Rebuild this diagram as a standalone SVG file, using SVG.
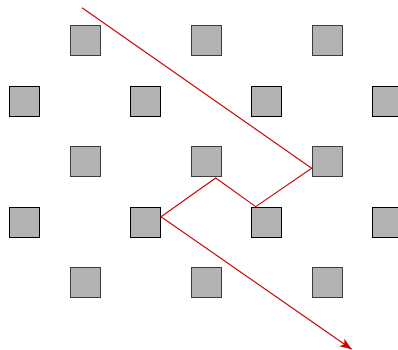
<svg xmlns="http://www.w3.org/2000/svg" width="398" height="350" viewBox="0 0 398 350">
<style>
.sq{fill:#b3b3b3;stroke-width:1}
.odd .sq{stroke:#3c3c3c}
.even .sq{stroke:#000}
.ray{fill:none;stroke:#c80000;stroke-width:1.1;stroke-linejoin:miter}
</style>
<defs>
<marker id="ah" markerUnits="userSpaceOnUse" markerWidth="16" markerHeight="12" viewBox="-13 -6 14 12" refX="0" refY="0" orient="auto">
<path d="M0,0 L-12,-4.5 L-9,0 L-12,4.5 Z" fill="#c80000"/>
</marker>
</defs>
<rect width="398" height="350" fill="#fff"/>
<g class="odd">
<g id="n11"><rect class="sq" x="70.5" y="25.5" width="30" height="30"/></g>
<g id="n12"><rect class="sq" x="191.5" y="25.5" width="30" height="30"/></g>
<g id="n13"><rect class="sq" x="312.5" y="25.5" width="30" height="30"/></g>
<g id="n31"><rect class="sq" x="70.5" y="146.5" width="30" height="30"/></g>
<g id="n32"><rect class="sq" x="191.5" y="146.5" width="30" height="30"/></g>
<g id="n33"><rect class="sq" x="312.5" y="146.5" width="30" height="30"/></g>
<g id="n51"><rect class="sq" x="70.5" y="267.5" width="30" height="30"/></g>
<g id="n52"><rect class="sq" x="191.5" y="267.5" width="30" height="30"/></g>
<g id="n53"><rect class="sq" x="312.5" y="267.5" width="30" height="30"/></g>
</g>
<g class="even">
<g id="n21"><rect class="sq" x="9.5" y="86.5" width="30" height="30"/></g>
<g id="n22"><rect class="sq" x="130.5" y="86.5" width="30" height="30"/></g>
<g id="n23"><rect class="sq" x="251.5" y="86.5" width="30" height="30"/></g>
<g id="n24"><rect class="sq" x="372.5" y="86.5" width="30" height="30"/></g>
<g id="n41"><rect class="sq" x="9.5" y="207.5" width="30" height="30"/></g>
<g id="n42"><rect class="sq" x="130.5" y="207.5" width="30" height="30"/></g>
<g id="n43"><rect class="sq" x="251.5" y="207.5" width="30" height="30"/></g>
<g id="n44"><rect class="sq" x="372.5" y="207.5" width="30" height="30"/></g>
</g>
<g id="connectors">
<path class="ray" d="M82,7.7 L311.7,168.3 L255.7,206.7 L215.7,178 L161,216.7 L351.7,349.3" marker-end="url(#ah)"/>
</g>
</svg>
